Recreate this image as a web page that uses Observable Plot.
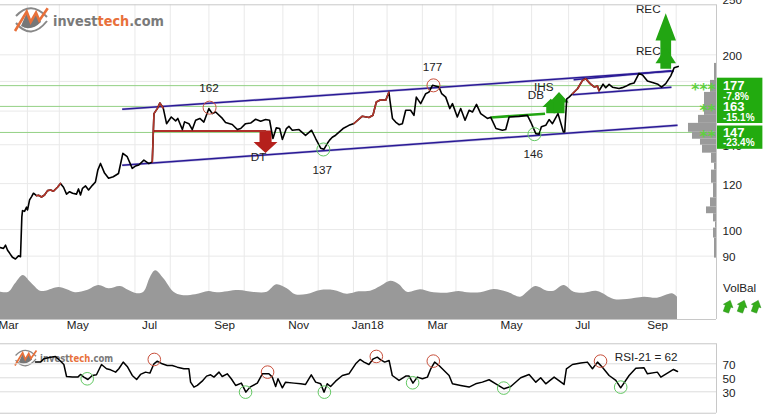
<!DOCTYPE html>
<html><head><meta charset="utf-8">
<script src="https://cdn.jsdelivr.net/npm/d3@7"></script>
<script src="https://cdn.jsdelivr.net/npm/@observablehq/plot@0.6"></script>
<style>
html,body{margin:0;padding:0;background:#fff}
#c{position:relative;width:765px;height:416px;overflow:hidden;font-family:"Liberation Sans",Arial,sans-serif}
#c svg{position:absolute;left:0;top:0}
.deco{position:absolute}
</style></head><body><div id="c"></div>
<script>
const monthStarts=[16,35,58,80,101,124,145,168,189,210,230,251,271,293,316,338,359,382,402];
const monthLabels=["Mar","May","Jul","Sep","Nov","Jan18","Mar","May","Jul","Sep"];
const monthMids=[4.8,46,88.7,133.3,177.4,218.5,260,304,346.4,391];
const yGrid=[200,180,160,140,120,100,90];
const yLabels=[250,200,140,120,100,90];
const supports=[177,163,147];
const supportStars=["***","**","**"];
const priceSessions=[0,1.8,3,4.2,5.4,7.1,8.9,10.7,11.9,12.7,13.1,14.3,15.5,16.1,17.3,18.5,19.6,21.4,22.6,24.4,26.2,28,29.8,31.5,33.9,35.7,37.5,39.3,41.1,42.9,45.2,46.4,47.6,48.8,50.6,52.4,54.8,56.5,57.9,59.5,61.9,64.3,67.1,70.2,72.8,75.4,78.4,80.4,82.3,85.3,88.3,90.3,91.3,93.3,94.8,96.8,98.8,101.6,104.2,105.5,108.2,109.5,112.1,114.1,116.1,118.6,121,124,126,128,132,133.9,137.9,140.9,142.9,145.8,148.8,151.8,154.8,157.7,160.1,162.1,164.1,166.1,167.7,170.1,171.6,173.6,177.6,181.5,185.1,187.5,190.5,192.4,194.5,195.8,197.4,199.4,203.8,207.3,210.3,215.3,219.2,221.6,223.6,226.2,229.2,231.1,231.7,233.2,235.1,237.1,239.1,241.1,244,246,247.4,250,253,254.9,257,260.9,262.5,264.9,267.3,268.9,271.8,273.8,276.4,278.8,280.8,283.2,285.7,289.7,291.7,294.8,298.6,300.6,302.6,308.5,313.5,315.5,318.5,320.4,321.8,324.4,326.4,328.4,331.7,334.9,335.7,336.9,338.3,340.3,343.3,346.3,348.2,350.8,353.4,355.2,356.1,358.5,360.1,362.1,364.1,368,370,372,374.6,377,379.9,382,384.9,387.9,391.2,393.3,395.8,398.8,400.8,403.2];
const priceValues=[93.1,92.8,94,92.1,91.1,89.6,89,90.1,89.8,105.2,107.8,107.5,109.3,108.1,112.5,114,115.5,114.4,114.6,113.8,114.7,116.7,117,116.4,118.3,120.1,118.3,115.1,116.2,115.5,115.1,117.5,114.7,117.8,118.9,117,119.3,120.8,126.6,130,125.1,122.6,123.3,124.9,135.3,133.5,127.5,128.7,129.2,131.7,129.9,130.8,158.4,161.6,165.2,162,152.2,156.3,153.9,155.4,148.7,153.3,152.2,148.7,154.3,155.4,153.2,161.6,158.4,159.4,155.4,152.9,151.7,148.7,149.3,152.2,152.6,154.9,153.7,154.7,154.3,143.5,149.7,149.3,143,149.3,150.6,148.3,148.7,145.3,148.3,143.5,138.1,137.5,140.8,142.6,144.2,145.4,149.3,151.2,152.3,156.8,156,157.4,165.9,167.4,167,172.5,167,155.4,153.2,151.6,152.2,160.5,160.5,157.3,169.1,164.8,171.4,172.5,177.2,176,171.4,169.1,161.6,164.8,156.3,161.6,154.3,160.5,159.4,164.3,158.4,155.4,156.1,149.3,148.3,148.7,156.3,156.7,157.3,153.2,146.3,146,150.3,151.2,154.7,152.2,158.4,147.3,147.3,168,169.1,171.4,174.8,180.7,181.9,178.4,176,176.8,173.4,178,175.5,177.9,175.9,175,175.6,176.5,178.2,178.9,185.8,184.7,180.3,179.2,177.9,176,178.4,184,190,191];
const redStart=[20,90.3,210.3,339];
const redEnd=[35.7,97,231.1,357];
const channelX1=[72.4,72.4,341,340.3];
const channelX2=[400.6,402.8,399,399.2];
const channelP1=[161.15,129.1,181.2,170.7];
const channelP2=[187.5,151.2,187.8,175.9];
const arrowCenter=[395.8,395.8,157.7,327.4,332.3];
const arrowHalfHead=[6.1,6.1,7.1,5,5.7];
const arrowHalfShaft=[3.2,0,3.6,2.7,3.3];
const arrowTip=[235.9,205.9,135.5,168.1,172.5];
const arrowNeck=[211.7,193.5,141.5,162.6,165.5];
const arrowBase=[189.3,193.5,148.2,158.6,158.6];
const arrowColor=["#22a512","#22a512","#b5201c","#22a512","#22a512"];
const peakS=[124.4,257.6],peakP=[162.2,177.2],troughS=[192.1,317.7],troughP=[137.4,146];
const labelText=["162","177","137","146","DT","IHS","DB","REC","REC"];
const labelS=[124,257,191.5,317,153.6,323.2,318.5,385.4,385.4];
const labelP=[175,190.5,126.5,134.6,133.2,175.8,170.3,240,203];
const histEdges=[193.3,180.7,172.3,157.3,152.4,147.1,143.1,139.8,135.4,130.1,126.6,120.2,113.4,109.4,106.5,103.1,100.6,96.7,89.3];
const histVol=[2,6,12,18,28,24,16,14,5,2,5,3,6,10,3,1,3,2];
const boxTop=[182.3,150.8],boxBottom=[152.3,137.5];
const targetText=["177","163","147"];
const changeText=["-7.8%","-15.1%","-23.4%"];
const changeP=[169.4,156.1,141.1];
const volS=[0,5,8.9,13.5,17.9,23.8,26.8,34.7,39.7,44.6,51.6,58.5,64.5,71.4,76.4,81.3,85.3,89.3,92.3,97.2,103.2,108.1,116.1,124,129,141.9,150.8,158.7,164.3,170.6,175.6,182.5,190.5,198.4,206.3,213.3,220.2,226.2,232.2,237.1,242.1,250,256,265.9,272.8,277.8,285.7,293.7,301.6,309.5,313.5,318.5,325.4,329.4,335.3,341.3,347.2,355.2,365.1,373,383,390.9,399.8,402.8];
const volV=[27.3,27.3,35.7,44,37.3,28.3,28.3,32,29.7,26.7,29,34,30.7,33,29,25.7,27.3,42.3,48.7,40.7,27.3,24,24.7,28,26.7,29,27,27.3,34.7,30.7,24.7,25,29,29,25.3,27.7,28.3,33,38.3,35,27.3,29.7,27.3,26.3,28,26.7,26.7,30,27.3,22.3,27.3,33,28.3,28.3,34,27.3,26.3,28,20,20,22.3,21.3,25.7,22.3];
const rsiS=[20.8,23.8,25.8,29.8,32.7,35.3,37.7,39.3,42.7,46,47.6,49.6,52,54.6,57.1,60.1,63.1,65.5,68.5,70.4,73,75.4,78.4,81,83.3,86.3,88.9,91.3,93.3,96.2,99.2,102.2,105.2,109.1,112.1,113.1,115.1,117.1,120,122.6,125,127,130,131.9,134.9,137.3,139.9,143.3,146,148.4,152.8,155.8,159.7,161.7,163.7,165.1,167.7,169.6,174.6,178.6,181.5,184.9,187.5,190.5,192.5,194.4,196.4,199.4,203.4,207.3,211.3,213.9,216.3,219.2,221.8,224.2,226.2,228.6,231.2,233.1,237.1,241.1,243.1,245.4,248,251,254,256,258.3,260.9,263.9,266.9,268.9,273.8,278.8,282.7,286.7,290.7,294.7,299.6,303.6,309.5,314.5,318.5,321.4,324.4,329.4,335.3,336.7,340.3,345.2,349.2,352.2,355.2,358.1,362.1,366.1,369,374,378,382.9,384.9,390.8,392.9,396.8,400.4,402.8];
const rsiV=[72.4,72.4,77.1,79.5,80.5,74.8,69,51.9,51,51,54.8,51,47.6,53.3,54.3,69,62.9,61.4,58.1,62.9,72.4,66.2,53.3,47.6,54.8,58.1,56.7,70,73.8,70,67.6,67.6,65.2,62.9,62.9,43.8,36.7,39.1,45.2,52.4,54.3,51,58.1,51.9,55.7,48.6,39.1,42.4,29.5,36.7,42.4,55.7,55.7,51,37.6,48.6,35.7,43.8,42.4,41.4,40.5,54.3,43.8,41.4,29.5,41.4,37.6,45.2,53.3,55.7,70,76.2,72.4,69,77.1,79.5,75.7,72.4,74.8,53.3,46.2,52.4,52.4,42.4,51,48.6,51,62.9,72.4,67.6,60.5,53.3,41.4,39.1,36.7,41.4,43.8,47.2,41.4,34.3,37.6,50,54.8,43.8,50,41.4,51,40.5,62.9,69,71,72.4,62.9,72.4,65.2,53.3,46.2,35.7,53.3,63.8,64.3,55.7,58.1,51,56.7,61.9,59];
const rsiRedS=[91.5,158.9,223.6,257.5,357],rsiRedV=[76.2,58.1,80.5,73.8,73.8];
const rsiGreenS=[51.6,145.8,192.7,245.2,299.4,369],rsiGreenV=[48.6,29.5,29.5,42.9,35.3,36.7];

const W=765,H=416,FRAME="#c8c8c8",GRID="#e9e9e9",TXT="#222",FONT='"Liberation Sans",Arial,sans-serif',FS=11.7;
const sessionMax=426;
const xScale={domain:[0,sessionMax],range:[0,716],axis:null};
const common={width:W,height:H,marginLeft:0,marginRight:49,marginTop:0,marginBottom:97,
  style:{background:"transparent",fontFamily:FONT,fontSize:"12px",color:TXT,overflow:"visible"}};
const idx=a=>a.map((_,i)=>i);
const price=priceSessions.map((s,i)=>({s,p:priceValues[i]}));
const reds=redStart.map((a,i)=>price.filter(d=>d.s>=a&&d.s<=redEnd[i]));
const arrowPts=arrowCenter.flatMap((c,i)=>{
  const h=arrowHalfHead[i],w=arrowHalfShaft[i],t=arrowTip[i],n=arrowNeck[i],b=arrowBase[i];
  return [[c-w,b],[c-w,n],[c-h,n],[c,t],[c+h,n],[c+w,n],[c+w,b]].map(([s,p])=>({s,p,i,col:arrowColor[i]}));
});
const LBL={fontSize:FS,fill:TXT};

const main=Plot.plot({...common,
  x:xScale,
  y:{type:"log",domain:[70,243.9],range:[319,4.3]},
  marks:[
    Plot.ruleX(monthStarts,{y1:70,y2:243.9,stroke:GRID,strokeWidth:1}),
    Plot.ruleY(yGrid,{x1:0,x2:sessionMax,stroke:GRID,strokeWidth:1}),
    Plot.axisX(monthMids,{anchor:"bottom",tickSize:0,tickPadding:1,label:null,fontSize:FS,tickFormat:(d,i)=>monthLabels[i],fill:TXT}),
    Plot.axisY(yLabels,{anchor:"right",tickSize:0,tickPadding:6,label:null,fontSize:FS,dy:1.5,fill:TXT}),
    Plot.ruleY(supports,{x1:0,x2:sessionMax,stroke:"#93d184",strokeWidth:1}),
    Plot.rect(idx(histVol),{x1:i=>sessionMax-histVol[i]/1.68,x2:sessionMax,y1:i=>histEdges[i+1],y2:i=>histEdges[i],fill:"#9a9a9a"}),
    Plot.line(arrowPts,{x:"s",y:"p",z:"i",fill:"col",stroke:"none",curve:"linear"}),
    Plot.link(idx(channelX1),{x1:i=>channelX1[i],x2:i=>channelX2[i],y1:i=>channelP1[i],y2:i=>channelP2[i],stroke:"#c9c6e2",strokeWidth:2.6}),
    Plot.link(idx(channelX1),{x1:i=>channelX1[i],x2:i=>channelX2[i],y1:i=>channelP1[i],y2:i=>channelP2[i],stroke:"#2a1a96",strokeWidth:1.5}),
    Plot.link([0],{x1:91,x2:158,y1:147.8,y2:147.8,stroke:"#b0302a",strokeWidth:2}),
    Plot.link([0],{x1:291.7,x2:324,y1:156,y2:158.3,stroke:"#22a512",strokeWidth:2.6}),
    Plot.line(price,{x:"s",y:"p",stroke:"#000",strokeWidth:1.6,curve:"linear"}),
    ...reds.map(r=>Plot.line(r,{x:"s",y:"p",stroke:"#b3352a",strokeWidth:1.6})),
    Plot.dot(idx(peakS),{x:i=>peakS[i],y:i=>peakP[i],r:6.5,stroke:"#c8503c",strokeWidth:1,fill:"none"}),
    Plot.dot(idx(troughS),{x:i=>troughS[i],y:i=>troughP[i],r:6.5,stroke:"#62c862",strokeWidth:1,fill:"none"}),
    Plot.text(idx(labelText),{x:i=>labelS[i],y:i=>labelP[i],text:i=>labelText[i],...LBL}),
    Plot.text(idx(supports),{x:425.5,y:i=>supports[i],dy:4.5,text:i=>supportStars[i],textAnchor:"end",fontFamily:"DejaVu Sans",fontSize:15.5,fontWeight:"bold",fill:"#5fd03f"}),
    Plot.rect(idx(boxTop),{x1:sessionMax,x2:453.6,y1:i=>boxBottom[i],y2:i=>boxTop[i],fill:"#22ab0f"}),
    Plot.text(idx(supports),{x:429.8,y:i=>supports[i],dy:0.5,text:i=>targetText[i],textAnchor:"start",fontSize:13,fontWeight:"bold",fill:"#fff",letterSpacing:0.2}),
    Plot.text(idx(changeP),{x:429.8,y:i=>changeP[i],text:i=>changeText[i],textAnchor:"start",fontSize:10,fontWeight:"bold",fill:"#fff",letterSpacing:1}),
    Plot.ruleY([70,243.9],{x1:0,x2:sessionMax,stroke:FRAME,strokeWidth:1}),
    Plot.ruleX([sessionMax],{y1:70,y2:243.9,stroke:FRAME,strokeWidth:1})
  ]});

const vol=Plot.plot({...common,
  x:xScale,
  y:{domain:[0,100],range:[319,219],axis:null},
  marks:[Plot.areaY(volS.map((s,i)=>({s,v:volV[i]})),{x:"s",y:"v",fill:"#999",curve:"catmull-rom"})]});

const rsi=Plot.plot({...common,marginBottom:4,
  x:xScale,
  y:{domain:[0,100],range:[412.3,342.3]},
  marks:[
    Plot.ruleY([70,50,30],{x1:0,x2:sessionMax,stroke:"#dcdcdc",strokeWidth:1}),
    Plot.ruleY([-0.6,98.6],{x1:0,x2:sessionMax,stroke:FRAME,strokeWidth:1}),
    Plot.ruleX([sessionMax],{y1:-0.6,y2:98.6,stroke:FRAME,strokeWidth:1}),
    Plot.axisY([70,50,30],{anchor:"right",tickSize:0,tickPadding:6,label:null,fontSize:FS,dy:1,fill:TXT}),
    Plot.line(rsiS.map((s,i)=>({s,v:rsiV[i]})),{x:"s",y:"v",stroke:"#000",strokeWidth:1.5}),
    Plot.dot(idx(rsiRedS),{x:i=>rsiRedS[i],y:i=>rsiRedV[i],r:6.3,stroke:"#c8503c",strokeWidth:1,fill:"none"}),
    Plot.dot(idx(rsiGreenS),{x:i=>rsiGreenS[i],y:i=>rsiGreenV[i],r:6.3,stroke:"#62c862",strokeWidth:1,fill:"none"}),
    Plot.text(["RSI-21 = 62"],{x:402.8,y:79.4,text:d=>d,textAnchor:"end",fontSize:FS,fill:TXT,letterSpacing:0.2})
  ]});

function logo(x,y,k){
  return `<svg class="deco" style="left:${x}px;top:${y}px" width="${170*k}" height="${40*k}" viewBox="0 0 170 40">
  <path d="M16 16 Q31 0 47 17" fill="none" stroke="#888" stroke-width="2"/>
  <path d="M16 23 Q31 41 47 21" fill="none" stroke="#888" stroke-width="2"/>
  <path d="M21 26 L27 12 L31 22 L36 12 L41 22 Q31 32 21 26Z" fill="#777"/>
  <path d="M15 31 L26.7 11.7 L30.7 22 L36 12.7 L39.3 20.5 L47.7 8.3" fill="none" stroke="#e8703a" stroke-width="2.6"/>
  <text x="53" y="25.5" font-family="DejaVu Sans,Verdana,sans-serif" font-weight="bold" font-size="14.6" textLength="111" lengthAdjust="spacingAndGlyphs" fill="#7a7a7a">invest<tspan fill="#e8703a">tech</tspan>.com</text></svg>`;
}
const volBal=`<div class="deco" style="left:723px;top:281px;font-size:${FS}px;color:${TXT}">VolBal</div>`+
 [727.7,742,756.3].map(x=>`<svg class="deco" style="left:${x-7}px;top:299px" width="14" height="15" viewBox="-7 -7.5 14 15"><polygon transform="rotate(20)" points="0,-6.5 5,-0.5 2.8,-0.5 2.8,6 -2.8,6 -2.8,-0.5 -5,-0.5" fill="#35ae1a" stroke="#1e8c10" stroke-width=".5"/></svg>`).join("");

const c=document.getElementById("c");
c.append(main,vol);
c.insertAdjacentHTML("beforeend",logo(0,0,1)+logo(4.8,345.4,.66)+volBal);
c.append(rsi);
</script></body></html>
